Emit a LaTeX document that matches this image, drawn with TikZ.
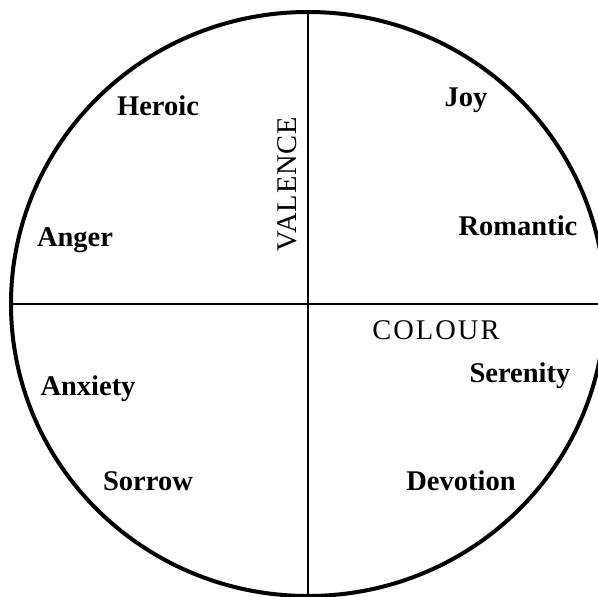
\documentclass[tikz,border=0pt]{standalone}
\usepackage{fontspec}
\setmainfont{Liberation Serif}
\usetikzlibrary{positioning}

\begin{document}
\begin{tikzpicture}[x=1pt, y=-1pt,
    mood/.style={font=\fontsize{28.5}{30}\selectfont\bfseries, anchor=base, inner sep=0pt},
    axislabel/.style={font=\fontsize{28.5}{30}\selectfont, anchor=base, inner sep=0pt}]
    % Frame of the picture
    \useasboundingbox (0,0) rectangle (598,597);
    \clip (0,0) rectangle (598,597);

    % Circle
    \coordinate (centre) at (308,304);
    \draw[line width=4pt] (centre) ellipse (297 and 292);

    % Axes
    \coordinate (top) at (308,12);
    \coordinate (bottom) at (308,597);
    \coordinate (left) at (11,304);
    \coordinate (right) at (598,304);
    \draw[line width=1.6pt] (top) -- (bottom);
    \draw[line width=1.6pt] (left) -- (right);

    % Axis names
    \node[axislabel, rotate=90] (valence) at (296,184) {\addfontfeatures{LetterSpace=3}VALENCE};
    \node[axislabel] (colour) at (436,339) {\addfontfeatures{LetterSpace=7}COLOUR};

    % Moods
    \node[mood] (heroic) at (158,115) {Heroic};
    \node[mood] (joy) at (466,106) {Joy};
    \node[mood] (anger) at (75,246) {Anger};
    \node[mood] (romantic) at (518,235) {Romantic};
    \node[mood] (serenity) at (520,382) {Serenity};
    \node[mood] (anxiety) at (88,395) {Anxiety};
    \node[mood] (sorrow) at (148,490) {Sorrow};
    \node[mood] (devotion) at (461,490) {Devotion};
\end{tikzpicture}
\end{document}
